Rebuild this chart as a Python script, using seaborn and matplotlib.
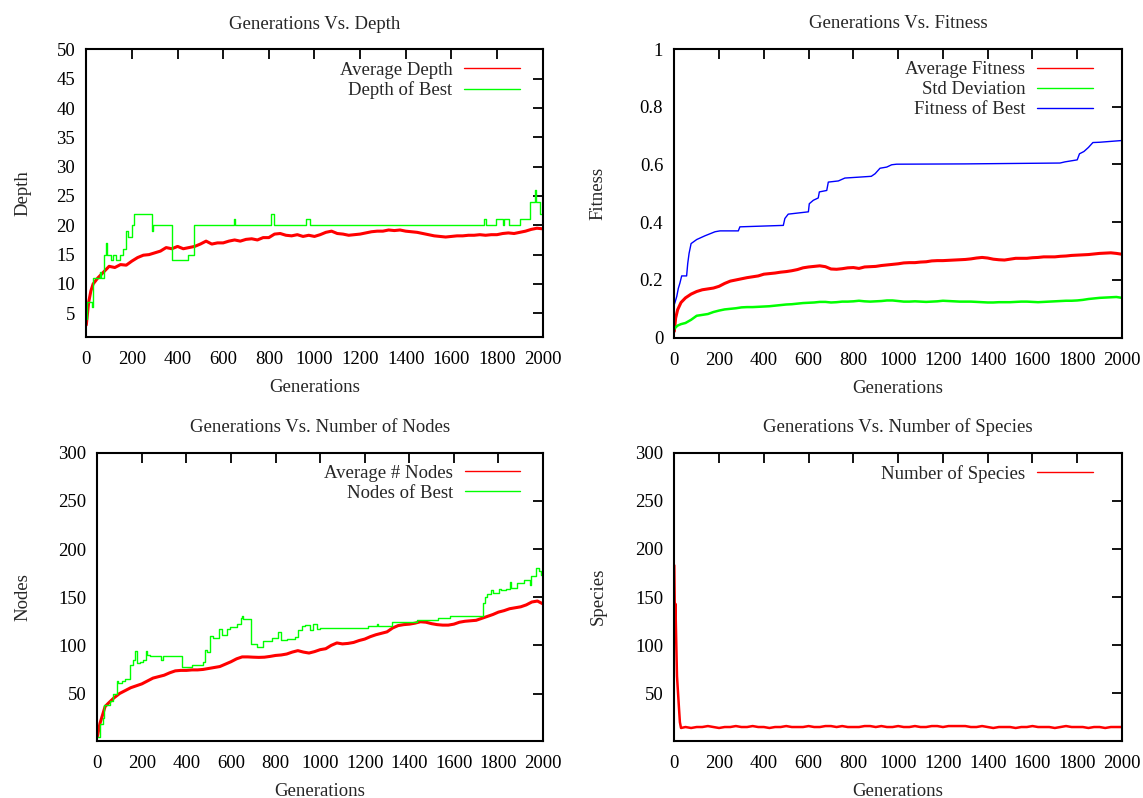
import matplotlib
matplotlib.use("Agg")
import matplotlib.pyplot as plt
import seaborn as sns

# ---------------- data ----------------
X_TICKS = [0, 200, 400, 600, 800, 1000, 1200, 1400, 1600, 1800, 2000]

# Depth
DEPTH_GEN = [0, 10, 20, 30, 50] + list(range(75, 2001, 25))
DEPTH_AVG = [3.0, 6.8, 8.8, 10.0, 11.0,
             12.0, 13.0, 12.8, 13.3, 13.2, 13.9, 14.5, 14.9, 15.0, 15.3,
             15.6, 16.2, 16.0, 16.4, 16.0, 16.2, 16.4, 16.8, 17.3, 16.8,
             17.0, 17.0, 17.3, 17.5, 17.3, 17.6, 17.7, 17.5, 17.9, 17.9,
             18.5, 18.6, 18.3, 18.2, 18.4, 18.1, 18.3, 18.1, 18.4, 18.8,
             19.0, 18.6, 18.5, 18.3, 18.4, 18.5, 18.7, 18.9, 19.0, 19.0,
             19.2, 19.1, 19.2, 19.0, 18.9, 18.8, 18.6, 18.4, 18.2, 18.1,
             18.0, 18.1, 18.2, 18.2, 18.3, 18.3, 18.4, 18.3, 18.4, 18.4,
             18.6, 18.7, 18.6, 18.8, 19.0, 19.3, 19.5, 19.4]
DEPTH_BEST_GEN = [0, 5, 25, 30, 58, 66, 77, 86, 90, 107,
                  118, 129, 146, 162, 172, 181, 202, 209, 286, 292,
                  374, 447, 472, 647, 653, 811, 822, 965, 980, 1745,
                  1754, 1794, 1827, 1833, 1854, 1900, 1946, 1968, 1973, 1989,
                  2000]
DEPTH_BEST = [4, 7, 6, 11, 12, 11, 15, 17, 15, 14,
              15, 14, 15, 16, 19, 18, 20, 22, 19, 20,
              14, 15, 20, 21, 20, 22, 20, 21, 20, 21,
              20, 21, 20, 21, 20, 21, 24, 26, 24, 22,
              22]

# Fitness
FIT_GEN = [0, 6, 15, 30, 50] + list(range(75, 2001, 25))
FIT_AVG = [0.022, 0.068, 0.097, 0.122, 0.138,
           0.151, 0.160, 0.166, 0.169, 0.172, 0.178, 0.188, 0.196, 0.200, 0.204,
           0.208, 0.211, 0.214, 0.220, 0.222, 0.224, 0.227, 0.229, 0.232, 0.236,
           0.242, 0.245, 0.247, 0.249, 0.246, 0.238, 0.237, 0.239, 0.242, 0.243,
           0.240, 0.245, 0.246, 0.247, 0.250, 0.252, 0.254, 0.256, 0.259, 0.260,
           0.260, 0.262, 0.263, 0.266, 0.267, 0.267, 0.268, 0.269, 0.270, 0.271,
           0.273, 0.276, 0.278, 0.276, 0.272, 0.270, 0.269, 0.272, 0.275, 0.275,
           0.275, 0.277, 0.278, 0.280, 0.280, 0.280, 0.282, 0.283, 0.285, 0.286,
           0.287, 0.288, 0.290, 0.292, 0.293, 0.294, 0.292, 0.289]
FIT_STD = [0.030, 0.036, 0.042, 0.047, 0.051,
           0.062, 0.076, 0.079, 0.082, 0.089, 0.094, 0.098, 0.100, 0.102, 0.105,
           0.106, 0.106, 0.107, 0.108, 0.109, 0.111, 0.113, 0.115, 0.116, 0.118,
           0.120, 0.121, 0.122, 0.124, 0.124, 0.122, 0.123, 0.125, 0.125, 0.126,
           0.128, 0.126, 0.125, 0.126, 0.127, 0.129, 0.129, 0.127, 0.125, 0.125,
           0.126, 0.125, 0.124, 0.125, 0.126, 0.128, 0.127, 0.126, 0.125, 0.125,
           0.125, 0.124, 0.123, 0.122, 0.122, 0.123, 0.123, 0.123, 0.124, 0.125,
           0.125, 0.124, 0.123, 0.124, 0.125, 0.126, 0.127, 0.128, 0.128, 0.129,
           0.131, 0.134, 0.136, 0.138, 0.139, 0.140, 0.141, 0.138]
FIT_BEST_GEN = [0, 3, 11, 18, 25, 33, 55, 60, 66, 75,
                100, 137, 182, 204, 286, 293, 487, 494, 509, 599,
                603, 621, 643, 648, 681, 688, 733, 762, 822, 880,
                897, 919, 949, 971, 993, 1299, 1723, 1745, 1800, 1810,
                1830, 1850, 1870, 1900, 2000]
FIT_BEST = [0.115, 0.122, 0.143, 0.171, 0.189, 0.214, 0.214, 0.257, 0.292, 0.326,
            0.340, 0.353, 0.367, 0.370, 0.370, 0.384, 0.389, 0.413, 0.428, 0.436,
            0.464, 0.476, 0.484, 0.505, 0.510, 0.539, 0.543, 0.553, 0.556, 0.559,
            0.568, 0.587, 0.591, 0.599, 0.601, 0.602, 0.605, 0.609, 0.616, 0.637,
            0.645, 0.659, 0.676, 0.677, 0.683]

# Number of nodes
NODES_GEN = [0, 12, 24, 35, 50] + list(range(75, 2001, 25))
NODES_AVG = [5, 19, 28, 36.5, 40,
             45.5, 50, 53, 56, 58, 60, 63, 66, 67.5, 69,
             71.5, 73.5, 74, 74, 74.5, 74.5, 75, 76, 77, 78,
             80.5, 83, 86, 88, 88, 87.7, 87.5, 87.7, 88.5, 89.5,
             90, 91, 93, 94.5, 93, 92, 93.5, 95.5, 96.5, 100,
             102.5, 101.5, 102, 103, 105, 106.5, 109, 111, 112.5, 114,
             118, 120.5, 121.5, 122, 123, 124.5, 124, 122.5, 121.5, 121,
             121, 122, 124, 125, 125.5, 126, 128, 130, 132, 134.5,
             136, 138, 139, 140, 142, 145, 146, 143]
NODES_BEST_GEN = [0, 12, 24, 30, 57, 72, 87, 94, 109, 124,
                  147, 160, 170, 177, 192, 207, 217, 225, 236, 286,
                  296, 379, 426, 476, 483, 492, 506, 520, 548, 558,
                  580, 595, 625, 644, 650, 655, 688, 715, 745, 782,
                  812, 823, 850, 887, 902, 917, 932, 954, 969, 984,
                  999, 1216, 1253, 1261, 1321, 1433, 1530, 1582, 1732, 1739,
                  1747, 1768, 1777, 1801, 1810, 1834, 1850, 1858, 1883, 1915,
                  1943, 1948, 1969, 1980, 1989, 2000]
NODES_BEST = [5, 18, 25, 38, 42, 50, 63, 61, 63, 65,
              80, 85, 94, 82, 83, 85, 94, 90, 89, 85,
              89, 78, 80, 83, 95, 93, 110, 108, 117, 111,
              117, 119, 122, 128, 130, 127, 101, 98, 104, 108,
              114, 106, 107, 109, 116, 120, 121, 116, 122, 117,
              118, 120, 122, 120, 124, 126.5, 128, 130, 144, 150,
              153, 157, 154, 159, 157, 158, 166, 160, 165, 168,
              163, 172, 180, 177, 173, 173]

# Number of species
SPECIES_GEN = [0, 3, 5, 12, 20, 25, 30] + list(range(50, 2001, 25))
SPECIES = [183, 118, 143, 68, 38, 20, 14,
           15, 14, 15, 15, 16, 15, 14, 15, 15, 16,
           15, 15, 16, 15, 15, 14, 15, 15, 16, 15,
           15, 15, 16, 15, 15, 16, 16, 15, 16, 15,
           15, 15, 16, 16, 15, 16, 15, 15, 16, 15,
           15, 16, 15, 15, 16, 16, 15, 16, 16, 16,
           16, 15, 15, 16, 15, 14, 15, 15, 15, 14,
           15, 15, 16, 15, 15, 15, 14, 15, 16, 15,
           15, 15, 14, 15, 15, 14, 15, 15, 15]

RED, GREEN, BLUE = "#ff0000", "#00ff00", "#0000ff"

# ---------------- style ----------------
sns.set_style("white")
plt.rcParams["font.family"] = ["Liberation Serif", "DejaVu Serif"]
FS = 13.5
W, H = 1143, 798

fig = plt.figure(figsize=(W / 100, H / 100), dpi=100)


def make_axes(left, top, right, bottom):
    """Axes placed by pixel edges of the figure."""
    return fig.add_axes([left / W, 1 - bottom / H, (right - left) / W, (bottom - top) / H])


def style(ax, box, title, ylabel, yticks, ylim, ylab_px, legend_right_px, yticklabels=None):
    left, top, right, bottom = box
    wpx, hpx = right - left, bottom - top
    ax.set_xlim(0, 2000)
    ax.set_ylim(*ylim)
    ax.set_xticks(X_TICKS)
    ax.set_yticks(yticks)
    if yticklabels is not None:
        ax.set_yticklabels(yticklabels)
    ax.tick_params(direction="in", length=7, width=1.3, top=True, right=True,
                   labelsize=FS, colors="black")
    ax.tick_params(axis="x", pad=10.5)
    ax.tick_params(axis="y", pad=8)
    for s in ax.spines.values():
        s.set_visible(True)
        s.set_color("black")
        s.set_linewidth(1.5)
    ax.set_title(title, fontsize=FS, pad=15)
    ax.set_xlabel("Generations", fontsize=FS)
    ax.set_ylabel(ylabel, fontsize=FS)
    ax.xaxis.set_label_coords(0.5, -42 / hpx)
    ax.yaxis.set_label_coords(-(ylab_px - 11) / wpx, 0.5)
    leg = ax.legend(loc="upper right", frameon=False, markerfirst=False,
                    fontsize=FS, borderpad=0, borderaxespad=0,
                    bbox_to_anchor=(1 - legend_right_px / wpx, 1 - 12 / hpx),
                    handlelength=2.95, handletextpad=0.63, labelspacing=0.16)
    for ln in leg.get_lines():
        ln.set_linewidth(1.0)


# ---- Generations Vs. Depth ----
box = (86.3, 49.4, 542.6, 336.7)
ax = make_axes(*box)
sns.lineplot(x=DEPTH_GEN, y=DEPTH_AVG, ax=ax, color=RED, lw=2.2,
             estimator=None, label="Average Depth")
sns.lineplot(x=DEPTH_BEST_GEN, y=DEPTH_BEST, ax=ax, color=GREEN, lw=1.0,
             estimator=None, drawstyle="steps-post", label="Depth of Best")
style(ax, box, "Generations Vs. Depth", "Depth", list(range(5, 51, 5)), (1, 50), 66, 23)

# ---- Generations Vs. Fitness ----
box = (674.3, 49.0, 1122.0, 337.7)
ax = make_axes(*box)
sns.lineplot(x=FIT_GEN, y=FIT_AVG, ax=ax, color=RED, lw=2.2,
             estimator=None, label="Average Fitness")
sns.lineplot(x=FIT_GEN, y=FIT_STD, ax=ax, color=GREEN, lw=1.8,
             estimator=None, label="Std Deviation")
sns.lineplot(x=FIT_BEST_GEN, y=FIT_BEST, ax=ax, color=BLUE, lw=1.0,
             estimator=None, label="Fitness of Best")
style(ax, box, "Generations Vs. Fitness", "Fitness", [0, 0.2, 0.4, 0.6, 0.8, 1.0], (0, 1),
      79, 29.5, yticklabels=["0", "0.2", "0.4", "0.6", "0.8", "1"])

# ---- Generations Vs. Number of Nodes ----
box = (97.3, 452.7, 543.0, 740.7)
ax = make_axes(*box)
sns.lineplot(x=NODES_GEN, y=NODES_AVG, ax=ax, color=RED, lw=2.2,
             estimator=None, label="Average # Nodes")
sns.lineplot(x=NODES_BEST_GEN, y=NODES_BEST, ax=ax, color=GREEN, lw=1.0,
             estimator=None, drawstyle="steps-post", label="Nodes of Best")
style(ax, box, "Generations Vs. Number of Nodes", "Nodes", list(range(50, 301, 50)), (1, 300), 77, 23)

# ---- Generations Vs. Number of Species ----
box = (674.3, 452.7, 1122.0, 740.5)
ax = make_axes(*box)
sns.lineplot(x=SPECIES_GEN, y=SPECIES, ax=ax, color=RED, lw=1.8,
             estimator=None, label="Number of Species")
style(ax, box, "Generations Vs. Number of Species", "Species", list(range(50, 301, 50)), (1, 300),
      79, 29.5)

fig.savefig("out.png", dpi=100, facecolor="white")
